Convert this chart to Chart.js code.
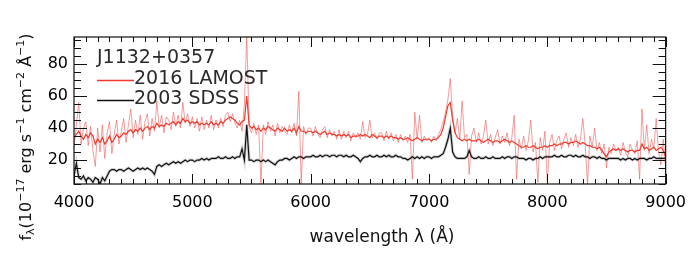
<!DOCTYPE html>
<html>
<head>
<meta charset="utf-8">
<script src="https://cdn.jsdelivr.net/npm/chart.js@4.4.1/dist/chart.umd.min.js"></script>
<style>
  html, body { margin: 0; padding: 0; background: #fff; }
  #chart { display: block; }
</style>
</head>
<body>
<canvas id="chart" width="695" height="264"></canvas>
<script>
// sampling grid of the spectra (Angstrom)
var waveStart = 4000;
var waveStep = 20;
var waveCount = 251;

// 2016 LAMOST, smoothed (one row = 200 A)
var lamostFlux = [
    34, 36, 38, 35, 33, 36, 34, 37, 35, 30,
    33, 31, 34, 30, 32, 35, 31, 33, 36, 34,
    35, 37, 36, 38, 39, 37, 39, 38, 40, 38,
    40, 41, 39, 41, 40, 43, 41, 42, 41, 43,
    42, 43, 44, 42, 44, 43, 46, 44, 45, 43,
    44, 43, 44, 42, 43, 42, 43, 42, 44, 42,
    43, 42, 44, 43, 45, 46, 47, 46, 45, 43,
    42, 44, 45, 60, 42, 40, 41, 39, 40, 38,
    40, 39, 41, 40, 39, 38, 40, 39, 38, 40,
    38, 39, 38, 40, 37, 41, 38, 38, 37, 38,
    38, 37, 38, 37, 36, 37, 38, 36, 37, 36,
    36, 35, 36, 35, 36, 35, 36, 34, 35, 35,
    35, 36, 35, 36, 35, 34, 36, 35, 34, 35,
    35, 34, 35, 34, 35, 34, 34, 33, 34, 33,
    33, 34, 33, 32, 33, 34, 33, 32, 33, 33,
    33, 32, 33, 33, 34, 36, 40, 47, 54, 56,
    45, 37, 34, 33, 32, 33, 32, 33, 32, 32,
    32, 33, 32, 31, 32, 33, 32, 31, 32, 32,
    31, 32, 33, 32, 31, 32, 31, 30, 29, 28,
    28, 29, 28, 28, 29, 28, 27, 28, 28, 29,
    28, 29, 29, 30, 29, 30, 30, 31, 31, 30,
    31, 31, 32, 31, 30, 31, 30, 29, 29, 28,
    28, 27, 28, 26, 24, 22, 25, 26, 27, 26,
    27, 26, 27, 26, 25, 26, 26, 25, 26, 26,
    30, 27, 28, 26, 27, 28, 26, 27, 28, 26,
    22
];

// 2016 LAMOST, unsmoothed (light red)
var lamostRaw = [
    28, 42, 56, 30, 40, 44, 29, 41, 26, 16,
    40, 25, 42, 21, 37, 44, 24, 36, 45, 30,
    38, 46, 31, 42, 52, 34, 45, 36, 48, 33,
    44, 49, 35, 46, 38, 57, 40, 48, 37, 47,
    45, 39, 50, 41, 48, 40, 56, 43, 49, 41,
    47, 40, 46, 38, 47, 39, 45, 40, 48, 39,
    45, 40, 46, 41, 48, 50, 44, 49, 43, 40,
    45, 38, 55, 98, 41, 37, 43, 36, 42, 5,
    42, 36, 44, 38, 42, 35, 43, 37, 41, 38,
    36, 42, 37, 43, 35, 63, 5, 41, 36, 40,
    40, 35, 41, 36, 34, 39, 41, 34, 39, 35,
    38, 33, 39, 33, 38, 34, 38, 32, 37, 34,
    37, 33, 44, 34, 36, 45, 34, 37, 33, 37,
    37, 32, 38, 33, 37, 32, 36, 31, 36, 32,
    35, 31, 36, 8, 50, 33, 48, 31, 35, 32,
    34, 31, 35, 32, 36, 39, 44, 50, 58, 71,
    47, 37, 46, 33, 57, 34, 36, 11, 35, 40,
    31, 37, 30, 35, 45, 30, 36, 29, 34, 39,
    30, 35, 31, 37, 29, 34, 48, 8, 33, 27,
    35, 26, 32, 45, 25, 31, 6, 34, 26, 38,
    6, 31, 36, 26, 32, 35, 27, 33, 37, 28,
    34, 29, 36, 28, 33, 46, 30, 5, 35, 28,
    40, 26, 31, 24, 30, 15, 28, 24, 30, 26,
    28, 23, 31, 25, 22, 30, 26, 24, 32, 8,
    52, 26, 42, 24, 33, 27, 46, 25, 17, 33,
    15
];

// 2003 SDSS
var sdssFlux = [
    10, 18, 9, 8, 10, 7, 9, 8, 6, 9,
    8, 5, 9, 7, 10, 13, 14, 14, 13, 14,
    14, 13, 14, 15, 14, 13, 14, 15, 14, 15,
    14, 15, 14, 13, 11, 16, 17, 16, 17, 18,
    17, 18, 19, 18, 19, 18, 19, 20, 19, 20,
    20, 19, 20, 20, 21, 20, 21, 20, 21, 21,
    21, 22, 21, 21, 22, 21, 21, 22, 21, 22,
    22, 27, 20, 42, 20, 20, 19, 20, 20, 19,
    20, 19, 20, 19, 18, 17, 19, 20, 20, 21,
    21, 20, 21, 22, 21, 22, 22, 21, 22, 22,
    22, 23, 22, 22, 23, 22, 23, 23, 22, 23,
    23, 22, 23, 23, 22, 23, 22, 22, 23, 22,
    21, 19, 21, 22, 22, 23, 22, 22, 23, 22,
    22, 23, 22, 23, 22, 22, 23, 22, 22, 21,
    21, 20, 21, 22, 21, 22, 21, 22, 21, 22,
    22, 21, 22, 22, 22, 23, 24, 28, 33, 40,
    25, 22, 21, 21, 21, 21, 22, 26, 22, 21,
    21, 22, 21, 21, 22, 21, 21, 22, 21, 21,
    21, 22, 21, 22, 22, 21, 22, 22, 21, 21,
    21, 20, 21, 21, 20, 21, 21, 22, 21, 22,
    22, 22, 22, 23, 22, 22, 23, 22, 22, 23,
    23, 22, 23, 22, 22, 23, 22, 22, 21, 22,
    22, 21, 22, 21, 21, 20, 21, 21, 21, 21,
    21, 20, 21, 20, 21, 21, 20, 21, 20, 21,
    21, 21, 20, 21, 21, 22, 21, 21, 21, 21,
    21
];

var xTickValues = [4000, 5000, 6000, 7000, 8000, 9000];
var yTickValues = [20, 40, 60, 80];
var objectName = "J1132+0357";
var seriesNames = ["2016 LAMOST", "2003 SDSS"];

var wavelength = [];
for (var i = 0; i < waveCount; i++) {
    wavelength.push(waveStart + i * waveStep);
}

function toPoints(values) {
    return values.map(function(v, i) { return { x: wavelength[i], y: v }; });
}

var FONT = "'DejaVu Sans', sans-serif";

// frame, inward ticks, axis titles and the little legend
var decorPlugin = {
    id: "decor",
    afterDraw: function(chart) {
        var ctx = chart.ctx;
        var a = chart.chartArea;
        var xs = chart.scales.x;
        var ys = chart.scales.y;

        ctx.save();
        ctx.strokeStyle = "#111";
        ctx.lineWidth = 1.2;
        ctx.strokeRect(a.left, a.top, a.right - a.left, a.bottom - a.top);

        ctx.lineWidth = 1;
        ctx.beginPath();
        for (var w = 4000; w <= 9000; w += 100) {
            var px = Math.round(xs.getPixelForValue(w)) + 0.5;
            var len = (w % 1000 === 0) ? 10 : 5;
            ctx.moveTo(px, a.bottom); ctx.lineTo(px, a.bottom - len);
            ctx.moveTo(px, a.top); ctx.lineTo(px, a.top + len);
        }
        for (var v = 5; v <= 95; v += 5) {
            var py = Math.round(ys.getPixelForValue(v)) + 0.5;
            var l2 = (v % 20 === 0) ? 13 : 7;
            ctx.moveTo(a.left, py); ctx.lineTo(a.left + l2, py);
            ctx.moveTo(a.right, py); ctx.lineTo(a.right - l2, py);
        }
        ctx.stroke();

        // x title
        ctx.fillStyle = "#111";
        ctx.font = "17px " + FONT;
        ctx.textAlign = "center";
        ctx.textBaseline = "middle";
        ctx.fillText("wavelength \u03bb (\u00c5)", 382, 238);

        // y title with sub/superscripts
        var parts = [
            ["f", 0], ["\u03bb", -1], ["(10", 0], ["\u221217", 1], [" erg s", 0],
            ["\u22121", 1], [" cm", 0], ["\u22122", 1], [" \u00c5", 0], ["\u22121", 1], [")", 0]
        ];
        var big = "16px " + FONT, small = "11px " + FONT;
        var total = 0;
        parts.forEach(function(p) {
            ctx.font = p[1] === 0 ? big : small;
            total += ctx.measureText(p[0]).width;
        });
        ctx.translate(31, 137 + total / 2);
        ctx.rotate(-Math.PI / 2);
        ctx.textAlign = "left";
        ctx.textBaseline = "alphabetic";
        var cx = 0;
        parts.forEach(function(p) {
            ctx.font = p[1] === 0 ? big : small;
            var dy = p[1] === 1 ? -7 : (p[1] === -1 ? 3 : 0);
            ctx.fillText(p[0], cx, dy);
            cx += ctx.measureText(p[0]).width;
        });
        ctx.setTransform(1, 0, 0, 1, 0, 0);

        // legend
        ctx.font = "19px " + FONT;
        ctx.fillStyle = "#2a2a2a";
        ctx.textBaseline = "middle";
        ctx.textAlign = "left";
        ctx.fillText(objectName, 97, 58);
        var ds = chart.data.datasets;
        var rows = [[seriesNames[0], ds[0].borderColor, 79], [seriesNames[1], ds[2].borderColor, 99]];
        rows.forEach(function(r) {
            ctx.strokeStyle = r[1];
            ctx.lineWidth = 1.3;
            ctx.beginPath();
            ctx.moveTo(97, r[2] + 1.5);
            ctx.lineTo(134, r[2] + 1.5);
            ctx.stroke();
            ctx.fillText(r[0], 134, r[2]);
        });
        ctx.restore();
    }
};

function createChart() {
    var ctx = document.getElementById("chart").getContext("2d");

    var data = {
        datasets: [
            {
                label: seriesNames[0],
                data: toPoints(lamostFlux),
                borderColor: "#f0392b",
                borderWidth: 1.2,
                order: 1
            },
            {
                label: seriesNames[0] + " raw",
                data: toPoints(lamostRaw),
                borderColor: "rgba(240, 90, 90, 0.6)",
                borderWidth: 1,
                order: 3
            },
            {
                label: seriesNames[1],
                data: toPoints(sdssFlux),
                borderColor: "#111111",
                borderWidth: 1.2,
                order: 2
            },
            {
                label: seriesNames[1] + " err",
                data: toPoints(sdssFlux),
                borderColor: "rgba(200, 200, 200, 0.8)",
                borderWidth: 3,
                order: 4
            }
        ]
    };

    new Chart(ctx, {
        type: "line",
        data: data,
        options: {
            responsive: false,
            animation: false,
            layout: { padding: { top: 37, right: 26, left: 0, bottom: 0 } },
            elements: {
                point: { radius: 0 },
                line: { tension: 0, fill: false }
            },
            scales: {
                x: {
                    type: "linear",
                    min: 4000,
                    max: 9000,
                    grid: { display: false, drawTicks: false },
                    border: { display: false },
                    afterBuildTicks: function(s) { s.ticks = xTickValues.map(function(v) { return { value: v }; }); },
                    afterFit: function(s) { s.height = 80; },
                    ticks: {
                        color: "#000", font: { family: FONT, size: 16 }, padding: 9, maxRotation: 0,
                        callback: function(v) { return String(v); }
                    }
                },
                y: {
                    min: 5,
                    max: 97,
                    grid: { display: false, drawTicks: false },
                    border: { display: false },
                    afterBuildTicks: function(s) { s.ticks = yTickValues.map(function(v) { return { value: v }; }); },
                    afterFit: function(s) { s.width = 74; },
                    ticks: {
                        color: "#000", font: { family: FONT, size: 16 }, padding: 6,
                        callback: function(v) { return String(v); }
                    }
                }
            },
            plugins: {
                legend: { display: false },
                tooltip: { enabled: false }
            }
        },
        plugins: [decorPlugin]
    });
}

createChart();
</script>
</body>
</html>
